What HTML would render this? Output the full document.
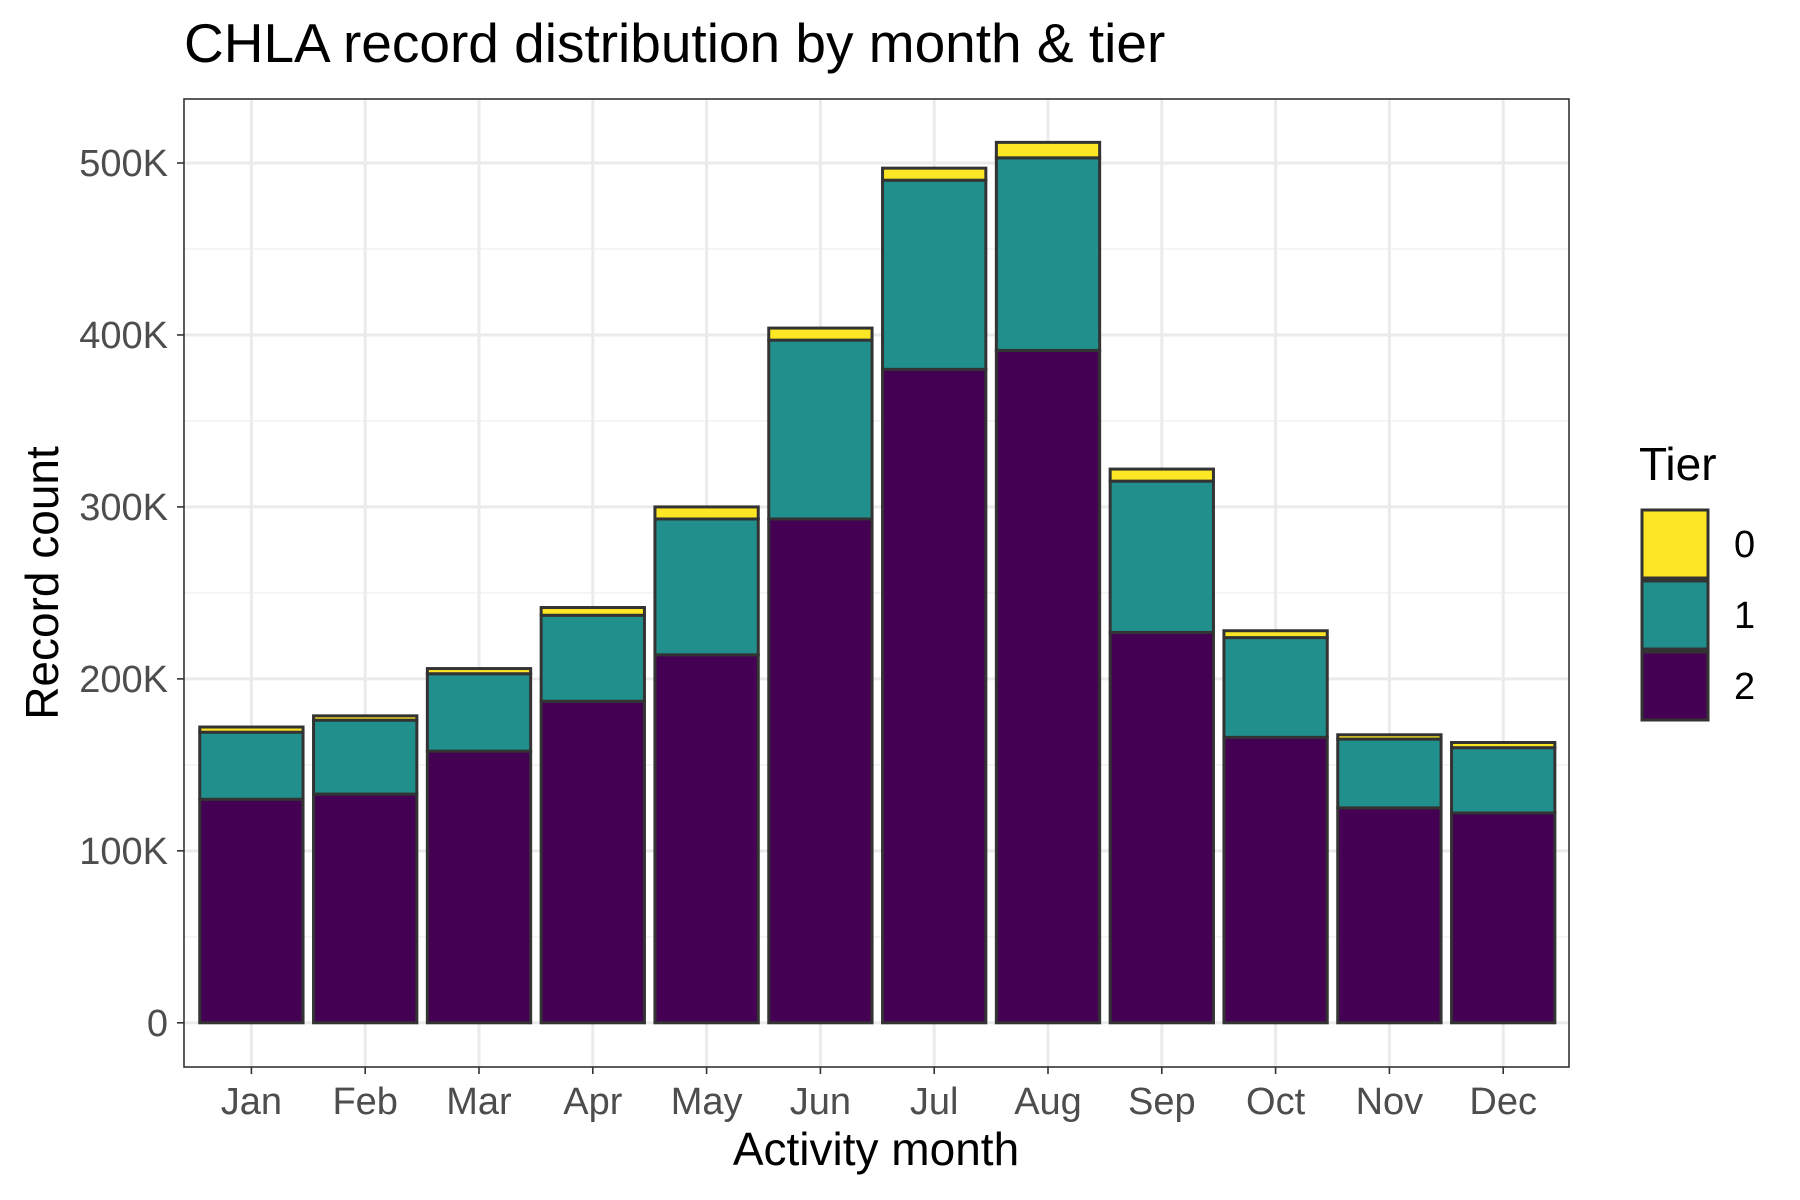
<!DOCTYPE html>
<html><head><meta charset="utf-8"><style>
html,body{margin:0;padding:0;background:#fff;}
svg{display:block;font-family:"Liberation Sans",Arial,sans-serif;}
</style></head><body>
<svg id="chart" width="1800" height="1200" viewBox="0 0 1800 1200" xmlns="http://www.w3.org/2000/svg">
<rect width="1800" height="1200" fill="#fff"/>
<text x="184" y="62" font-size="55" fill="#000">CHLA record distribution by month &amp; tier</text>
<g id="grid"></g>
<g id="bars"></g>
<rect x="184" y="99" width="1385" height="968" fill="none" stroke="#333" stroke-width="1.6"/>
<g id="axes"></g>
<text x="876" y="1165" font-size="46" text-anchor="middle" fill="#000">Activity month</text>
<text transform="translate(58,583) rotate(-90)" font-size="46" text-anchor="middle" fill="#000">Record count</text>
<g id="legend">
<text x="1639" y="480" font-size="46" fill="#000">Tier</text>
</g>
</svg>
<script>
const months = ["Jan","Feb","Mar","Apr","May","Jun","Jul","Aug","Sep","Oct","Nov","Dec"];
const tier2 = [130,133,158,187,214,293,380,391,227,166,125,122];
const tier1 = [39,43,45,50,79,104,110,112,88,58,40,38];
const tier0 = [3,2.5,3,4.5,7,7,7,9,7,4,2.5,3];
const yTicks = [0,100,200,300,400,500];
const yTickLabels = ["0","100K","200K","300K","400K","500K"];
const tierNames = ["0","1","2"];
const tierColors = ["#FDE725","#21908C","#440154"];

const NS="http://www.w3.org/2000/svg";
const y = v => 1022.8 - v*1.7196;
const x = i => 251.4 + i*113.8;
const bw = 103.3;
function mk(tag, attrs, parent){const e=document.createElementNS(NS,tag);for(const k in attrs)e.setAttribute(k,attrs[k]);parent.appendChild(e);return e;}
const grid=document.getElementById('grid'), bars=document.getElementById('bars'), axes=document.getElementById('axes'), legend=document.getElementById('legend');
mk('rect',{x:184,y:99,width:1385,height:968,fill:'#fff'},grid);
for(let i=0;i<yTicks.length-1;i++){
  const l=mk('line',{x1:184,x2:1569,y1:y((yTicks[i]+yTicks[i+1])/2),y2:y((yTicks[i]+yTicks[i+1])/2),stroke:'#F2F2F2','stroke-width':1.5},grid);
  
  
}
yTicks.forEach((t,i)=>{
  const l=mk('line',{x1:184,x2:1569,y1:y(t),y2:y(t),stroke:'#EBEBEB','stroke-width':3},grid);
  
  
  mk('line',{x1:177,x2:184,y1:y(t),y2:y(t),stroke:'#333','stroke-width':1.6},axes);
  const tx=mk('text',{x:168,y:y(t)+13,'font-size':38,'text-anchor':'end',fill:'#4D4D4D'},axes);
  tx.textContent=yTickLabels[i];
  
  
});
months.forEach((m,i)=>{
  const l=mk('line',{x1:x(i),x2:x(i),y1:99,y2:1067,stroke:'#EBEBEB','stroke-width':3},grid);
  
  
  mk('line',{x1:x(i),x2:x(i),y1:1067,y2:1074,stroke:'#333','stroke-width':1.6},axes);
  const tx=mk('text',{x:x(i),y:1114,'font-size':38,'text-anchor':'middle',fill:'#4D4D4D'},axes);
  tx.textContent=m;
  
  
  const segs=[[0,tier2[i],tierColors[2],'bar-tier2-'+m.toLowerCase()],[tier2[i],tier2[i]+tier1[i],tierColors[1],'bar-tier1-'+m.toLowerCase()],[tier2[i]+tier1[i],tier2[i]+tier1[i]+tier0[i],tierColors[0],'bar-tier0-'+m.toLowerCase()]];
  segs.forEach(s=>{
    const r=mk('rect',{x:x(i)-bw/2,y:y(s[1]),width:bw,height:y(s[0])-y(s[1]),fill:s[2],stroke:'#333','stroke-width':3},bars);
    
    
  });
});
tierNames.forEach((n,i)=>{
  const top=510+i*71;
  const r=mk('rect',{x:1642,y:top,width:66,height:68,fill:tierColors[i],stroke:'#333','stroke-width':3},legend);
  
  
  const t=mk('text',{x:1734,y:top+47,'font-size':38,fill:'#000'},legend);
  t.textContent=n;
  
  
});
</script>
</body></html>
